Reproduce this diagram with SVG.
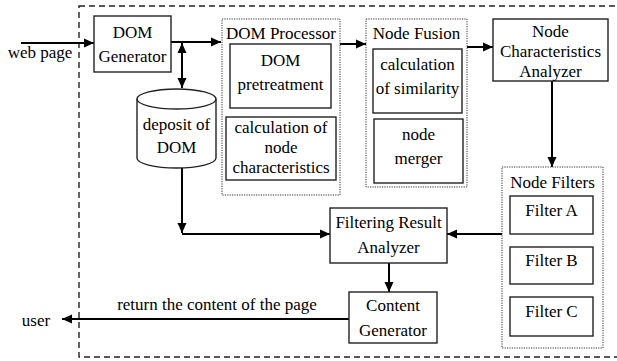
<svg xmlns="http://www.w3.org/2000/svg" width="617" height="361" viewBox="0 0 617 361">
  <defs>
    <marker id="arrow" viewBox="0 0 10 10" refX="10" refY="5" markerWidth="10" markerHeight="10" markerUnits="userSpaceOnUse" orient="auto-start-reverse">
      <path d="M0,0.5 L10,5 L0,9.5 Z" fill="#000"/>
    </marker>
  </defs>
  <style>
    text { font-family: 'Liberation Serif', serif; font-size: 17px; fill: #000; text-anchor: middle; }
    .box { fill: #fff; stroke: #222; stroke-width: 1.4; }
    .group { fill: none; stroke: #333; stroke-width: 1; stroke-dasharray: 1.2 1.2; }
    .outer { fill: none; stroke: #222; stroke-width: 1.4; stroke-dasharray: 6 4; }
    .conn { fill: none; stroke: #000; stroke-width: 2; }
  </style>
  <rect width="617" height="361" fill="#fff"/>

  <!-- system boundary -->
  <rect class="outer" x="79" y="6" width="560" height="351"/>

  <!-- connectors -->
  <g id="connectors">
    <line class="conn" x1="21" y1="43" x2="94" y2="43" marker-end="url(#arrow)"/>
    <line class="conn" x1="171" y1="42" x2="221" y2="42" marker-end="url(#arrow)"/>
    <line class="conn" x1="182" y1="43" x2="182" y2="88" marker-start="url(#arrow)" marker-end="url(#arrow)"/>
    <line class="conn" x1="340" y1="44" x2="366" y2="44" marker-end="url(#arrow)"/>
    <line class="conn" x1="467" y1="47" x2="493" y2="47" marker-end="url(#arrow)"/>
    <line class="conn" x1="552" y1="81" x2="552" y2="167" marker-end="url(#arrow)"/>
    <line class="conn" x1="182" y1="168" x2="182" y2="233" marker-end="url(#arrow)"/>
    <line class="conn" x1="182" y1="234" x2="330" y2="234" marker-end="url(#arrow)"/>
    <line class="conn" x1="502" y1="234" x2="447" y2="234" marker-end="url(#arrow)"/>
    <line class="conn" x1="389" y1="263" x2="389" y2="292" marker-end="url(#arrow)"/>
    <line class="conn" x1="349" y1="319" x2="62" y2="319" marker-end="url(#arrow)"/>
  </g>

  <!-- external labels -->
  <text x="40" y="58">web page</text>
  <text x="36" y="326">user</text>
  <text x="217" y="310">return the content of the page</text>

  <g id="dom-generator">
    <rect class="box" x="94" y="16" width="77" height="56"/>
    <text x="132.5" y="38">DOM</text>
    <text x="132.5" y="62">Generator</text>
  </g>

  <g id="dom-deposit">
    <path class="box" d="M137,99 L137,158 A39.5,10 0 0 0 216,158 L216,99 A39.5,10 0 0 0 137,99 Z"/>
    <path d="M137,99 A39.5,10 0 0 0 216,99" fill="none" stroke="#222" stroke-width="1.4"/>
    <text x="176.5" y="130">deposit of</text>
    <text x="176.5" y="153">DOM</text>
  </g>

  <g id="dom-processor">
    <rect class="group" x="222" y="19" width="118" height="176"/>
    <text x="281" y="39">DOM Processor</text>
    <rect class="box" x="230" y="44" width="101" height="64"/>
    <text x="280.5" y="66">DOM</text>
    <text x="280.5" y="90">pretreatment</text>
    <rect class="box" x="226" y="117" width="110" height="63"/>
    <text x="281" y="133">calculation of</text>
    <text x="281" y="153">node</text>
    <text x="281" y="173">characteristics</text>
  </g>

  <g id="node-fusion">
    <rect class="group" x="366" y="19" width="101" height="168"/>
    <text x="416.5" y="39">Node Fusion</text>
    <rect class="box" x="373" y="49" width="89" height="64"/>
    <text x="417.5" y="70">calculation</text>
    <text x="417.5" y="94">of similarity</text>
    <rect class="box" x="374" y="119" width="89" height="64"/>
    <text x="418.5" y="140">node</text>
    <text x="418.5" y="164">merger</text>
  </g>

  <g id="node-characteristics-analyzer">
    <rect class="box" x="493" y="19" width="115" height="62"/>
    <text x="550.5" y="37">Node</text>
    <text x="550.5" y="57">Characteristics</text>
    <text x="550.5" y="77">Analyzer</text>
  </g>

  <g id="node-filters">
    <rect class="group" x="502" y="167" width="101" height="181"/>
    <text x="552.5" y="188">Node Filters</text>
    <rect class="box" x="510" y="196" width="83" height="38"/>
    <text x="551.5" y="216">Filter A</text>
    <rect class="box" x="510" y="247" width="83" height="37"/>
    <text x="551.5" y="266">Filter B</text>
    <rect class="box" x="510" y="297" width="83" height="39"/>
    <text x="551.5" y="317">Filter C</text>
  </g>

  <g id="filtering-result-analyzer">
    <rect class="box" x="330" y="208" width="117" height="55"/>
    <text x="388.5" y="228">Filtering Result</text>
    <text x="388.5" y="253">Analyzer</text>
  </g>

  <g id="content-generator">
    <rect class="box" x="349" y="292" width="88" height="51"/>
    <text x="393" y="311">Content</text>
    <text x="393" y="336">Generator</text>
  </g>
</svg>
